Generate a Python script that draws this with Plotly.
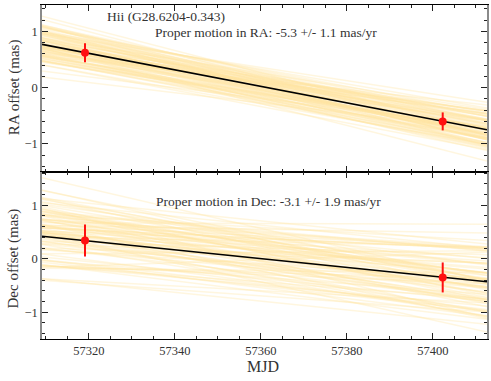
import plotly.graph_objects as go
from plotly.subplots import make_subplots

# epochs (MJD) and offsets of the two observations
mjd = [57319.1, 57402.3]
ra_off = [0.62, -0.60]
ra_err = [0.17, 0.16]
dec_off = [0.34, -0.35]
dec_err = [0.30, 0.28]

# best fit, evaluated at both ends of the plotted MJD range
fit_mjd = [57309.1, 57412.6]
ra_fit = [0.77, -0.75]
dec_fit = [0.42, -0.43]

# sampled fits: proper motion (mas/yr) and offset (mas) at the middle epoch
ref_mjd = 57360.85
ra_pm = [-5.3, -4.1, -6.2, -5.8, -4.7, -5.0, -6.8, -5.5, -4.4, -5.9,
         -3.6, -5.1, -6.4, -4.9, -5.6, -7.2, -4.2, -5.3, -6.0, -4.8,
         -5.7, -3.9, -6.6, -5.2, -4.5, -5.4, -6.1, -4.0, -5.8, -7.5,
         -5.0, -4.6, -6.3, -5.5, -3.3, -5.9, -4.9, -6.9, -5.1, -4.3,
         -5.6, -6.5, -4.7, -5.2, -3.8, -6.0, -5.4, -4.1, -7.0, -5.7,
         -4.8, -5.3, -6.2, -4.4, -5.0, -6.7, -3.5, -5.5, -6.1, -4.6,
         -5.8, -4.2, -6.4, -5.1, -7.3, -4.9, -5.6, -3.7, -6.0, -5.2,
         -4.5, -6.3, -5.4, -4.0, -5.9, -6.8, -4.7, -5.3, -3.1, -6.6,
         -5.0, -4.3, -5.7, -6.2, -4.8, -5.5, -7.1, -4.4, -6.0, -5.1]
ra_mid = [0.02, -0.10, 0.15, -0.05, 0.08, -0.18, 0.04, 0.22, -0.12, 0.00,
          0.10, -0.25, 0.06, 0.13, -0.03, 0.25, 0.18, 0.30, -0.15, 0.05,
          -0.20, 0.09, 0.01, -0.06, 0.25, 0.12, -0.11, -0.02, 0.16, 0.03,
          -0.30, 0.07, -0.14, 0.20, -0.28, 0.11, -0.22, 0.14, -0.07, 0.35,
          0.04, -0.09, 0.19, -0.16, 0.08, 0.26, -0.04, -0.13, 0.10, -0.25,
          0.17, -0.27, 0.05, 0.12, -0.19, 0.02, -0.20, -0.06, 0.23, -0.10,
          0.14, 0.00, -0.21, 0.07, 0.18, -0.12, 0.28, 0.11, -0.01, -0.17,
          0.06, 0.18, -0.08, 0.15, -0.24, 0.04, 0.10, -0.35, 0.13, -0.05,
          0.21, -0.14, 0.08, -0.02, 0.32, -0.11, -0.30, 0.16, -0.20, 0.00]

dec_pm = [-3.1, -1.2, -5.0, -2.4, -4.3, -0.5, -3.8, -6.1, -2.0, -3.5,
          -4.8, -1.6, -2.9, -5.6, -0.9, -3.3, -4.0, -2.2, -6.8, -3.0,
          -1.9, -4.5, -2.7, -3.9, 0.2, -5.3, -2.5, -3.6, -1.4, -4.7,
          -3.2, -6.4, -2.1, -0.7, -4.1, -3.4, -5.8, -1.8, -2.8, -4.4,
          -3.7, -1.0, -5.1, -2.6, -3.0, -7.2, -2.3, -4.6, -1.5, -3.5,
          -0.3, -4.9, -2.9, -6.5, -6.0, -1.7, -3.3, -5.4, -2.0, -4.2,
          -1.1, -3.6, -2.4, -5.9, -0.8, -3.1, -4.7, -2.6, 1.0, -3.9,
          -5.2, -1.3, -2.8, -4.0, -6.6, -2.2, -3.4, -0.1, -4.5, -2.9,
          -3.7, -5.5, -1.9, -3.2, -4.3, -2.5, -6.2, -1.4, -3.0, -4.8]
dec_mid = [0.05, -0.30, 0.40, 0.15, -0.20, 0.55, -0.45, 0.10, 0.30, -0.05,
           0.25, -0.60, 0.00, 0.35, 0.20, -0.15, 0.45, -0.35, 0.55, 0.62,
           -0.10, 0.18, -0.50, 0.28, 0.12, -0.25, 0.50, -0.02, 0.38, -0.40,
           0.14, 0.22, -0.70, 0.32, 0.04, -0.28, 0.10, 0.48, -0.12, 0.26,
           -0.55, 0.06, 0.34, -0.18, 0.70, -0.08, 0.16, -0.32, 0.42, 0.02,
           -0.22, 0.30, -0.38, -0.45, -0.05, 0.58, -0.48, 0.12, 0.24, -0.14,
           0.36, -0.62, 0.08, 0.44, -0.26, 0.18, -0.10, 0.52, -0.02, 0.28,
           -0.34, 0.10, 0.40, -0.20, 0.35, -0.44, 0.22, 0.66, -0.16, 0.32,
           0.00, -0.06, 0.46, -0.52, 0.14, 0.26, -0.24, 0.38, -0.80, 0.04]

FONT = "Liberation Serif"
TXT = "#333333"
YELLOW = "rgba(254,228,162,0.34)"


def samples_trace(pm, mid):
    xs, ys = [], []
    for p, m in zip(pm, mid):
        for t in fit_mjd:
            xs.append(t)
            ys.append(m + p * (t - ref_mjd) / 365.25)
        xs.append(None)
        ys.append(None)
    return go.Scatter(x=xs, y=ys, mode="lines", line=dict(color=YELLOW, width=1.5),
                      hoverinfo="skip", showlegend=False)


fig = make_subplots(rows=2, cols=1, shared_xaxes=True, vertical_spacing=0)

for row, pm, mid, fit, off, err in [
    (1, ra_pm, ra_mid, ra_fit, ra_off, ra_err),
    (2, dec_pm, dec_mid, dec_fit, dec_off, dec_err),
]:
    fig.add_trace(samples_trace(pm, mid), row=row, col=1)
    fig.add_trace(go.Scatter(x=fit_mjd, y=fit, mode="lines",
                             line=dict(color="black", width=1.6), showlegend=False),
                  row=row, col=1)
    fig.add_trace(go.Scatter(x=mjd, y=off, mode="markers",
                             marker=dict(color="#ff1010", size=8),
                             error_y=dict(type="data", array=err, color="#ff1010",
                                          thickness=2, width=0),
                             showlegend=False),
                  row=row, col=1)

xax = dict(range=[fit_mjd[0], fit_mjd[1]], tick0=57320, dtick=20, tickformat="d",
           showline=True, linecolor="black", linewidth=1, mirror="allticks",
           ticks="inside", ticklen=6, tickcolor="#222", showgrid=False, zeroline=False,
           automargin=False,
           minor=dict(ticks="inside", dtick=5, tick0=57320, ticklen=3, tickcolor="#222"),
           tickfont=dict(family=FONT, size=12.5, color=TXT))
yax = dict(tickvals=[-1, 0, 1], showline=True, linecolor="#8a8a8a", linewidth=1.5,
           mirror="allticks", ticks="inside", ticklen=6, tickcolor="#222",
           showgrid=False, zeroline=False, automargin=False,
           minor=dict(ticks="inside", dtick=0.2, tick0=0, ticklen=3, tickcolor="#222"),
           tickfont=dict(family=FONT, size=12.5, color=TXT))

fig.update_xaxes(**xax)
fig.update_xaxes(showticklabels=False, row=1, col=1)
fig.update_yaxes(**yax)
fig.update_yaxes(range=[-1.5, 1.47], row=1, col=1)
fig.update_yaxes(range=[-1.5, 1.62], row=2, col=1)

notes = [
    ("Hii (G28.6204-0.343)", 0.279, 0.967, 13.5, 0),
    ("Proper motion in RA: -5.3 +/- 1.1 mas/yr", 0.503, 0.919, 13.5, 0),
    ("Proper motion in Dec: -3.1 +/- 1.9 mas/yr", 0.508, 0.411, 13.5, 0),
    ("MJD", 0.497, -0.083, 16, 0),
    ("RA offset (mas)", -0.063, 0.754, 15, -90),
    ("Dec offset (mas)", -0.063, 0.241, 15, -90),
]
for txt, xp, yp, size, ang in notes:
    fig.add_annotation(text=txt, x=xp, y=yp, xref="paper", yref="paper",
                       showarrow=False, xanchor="center", yanchor="middle",
                       textangle=ang, font=dict(family=FONT, size=size, color=TXT))

fig.update_layout(width=491, height=381, margin=dict(l=42, r=4, t=5, b=42),
                  plot_bgcolor="white", paper_bgcolor="white")

# the page body has a default 8px margin; drop it so the figure sits at the corner
fig.write_html("out.html", config={"displayModeBar": False},
               post_script="document.body.style.margin='0';")
